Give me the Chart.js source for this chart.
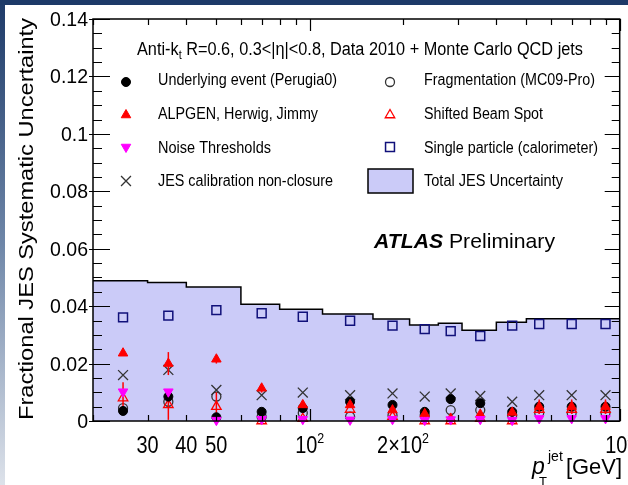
<!DOCTYPE html>
<html>
<head>
<meta charset="utf-8">
<script src="https://cdn.jsdelivr.net/npm/chart.js@4.4.1/dist/chart.umd.min.js"></script>
<style>
  html, body { margin: 0; padding: 0; background: #fff; }
  canvas { display: block; }
</style>
</head>
<body>
<canvas id="jes" width="628" height="485"></canvas>
<script>
// bins of the total uncertainty band (GeV) and its value per bin
const binEdges = [20, 30, 40, 60, 80, 110, 160, 210, 260, 310, 400, 500, 600, 800, 1000];
const totalJES = [0.0488, 0.0482, 0.0467, 0.0407, 0.0389, 0.0373, 0.0355, 0.0334, 0.0340, 0.0316, 0.0344, 0.0356, 0.0356, 0.0356];

// bin centres where the single components are plotted
const ptCenters = [25, 35, 50, 70, 95, 135, 185, 235, 285, 355, 450, 550, 700, 900];

const underlyingEvent = [0.0035, 0.0085, 0.0013, 0.0032, 0.0045, 0.0067, 0.0056, 0.0032, 0.0076, 0.0062, 0.0032, 0.0050, 0.0050, 0.0050];
const fragmentation   = [0.0045, 0.0067, 0.0085, 0.0015, 0.0028, 0.0015, 0.0020, 0.0020, 0.0038, 0.0038, 0.0020, 0.0029, 0.0029, 0.0029];
const alpgen          = [0.0236, 0.0200, 0.0215, 0.0114, 0.0056, 0.0056, 0.0038, 0.0025, 0.0009, 0.0023, 0.0030, 0.0050, 0.0050, 0.0050];
const alpgenErr       = [0.0010, 0.0040, 0.0015, 0.0015, 0.0010, 0.0010, 0.0010, 0.0010, 0.0008, 0.0010, 0.0010, 0.0025, 0.0025, 0.0025];
const beamSpot        = [0.0080, 0.0056, 0.0050, 0.0000, 0.0008, 0.0040, 0.0015, 0.0000, 0.0000, 0.0008, 0.0000, 0.0040, 0.0040, 0.0040];
const beamSpotErr     = [0.0055, 0.0052, 0.0050, 0.0000, 0.0000, 0.0000, 0.0000, 0.0000, 0.0000, 0.0000, 0.0000, 0.0015, 0.0015, 0.0015];
const noise           = [0.0102, 0.0102, 0.0003, 0.0006, 0.0006, 0.0004, 0.0006, 0.0003, 0.0005, 0.0006, 0.0003, 0.0009, 0.0009, 0.0009];
const nonClosure      = [0.0160, 0.0178, 0.0108, 0.0090, 0.0099, 0.0090, 0.0096, 0.0085, 0.0096, 0.0087, 0.0067, 0.0090, 0.0090, 0.0090];
const singleParticle  = [0.0361, 0.0367, 0.0386, 0.0375, 0.0363, 0.0349, 0.0332, 0.0320, 0.0313, 0.0296, 0.0332, 0.0338, 0.0338, 0.0338];

// axis tick labels
const yTickValues = [0, 0.02, 0.04, 0.06, 0.08, 0.1, 0.12, 0.14];
const yTickLabels = ['0', '0.02', '0.04', '0.06', '0.08', '0.1', '0.12', '0.14'];
const xTickValues = [30, 40, 50, 100, 200, 1000];
const xTickLabels = ['30', '40', '50', '10^2', '2\u00d710^2', '10^3'];

const FONT = '"Liberation Sans", Arial, Helvetica, sans-serif';
const BAND = '#cbcbf8';

function pts(ys) {
    return ptCenters.map((x, i) => ({ x: x, y: ys[i] }));
}

// draws a row of text pieces; squeezed horizontally to "width" or by "sx"
function richText(ctx, pieces, x, y, opt) {
    opt = opt || {};
    let total = 0;
    pieces.forEach(p => {
        ctx.font = `${p.st || ''} ${p.s}px ${FONT}`;
        p.w = ctx.measureText(p.t).width;
        total += p.w;
    });
    const sx = opt.width ? opt.width / total : (opt.sx || 1);
    let start = x;
    if (opt.align === 'right') start = x - total * sx;
    if (opt.align === 'center') start = x - total * sx / 2;
    ctx.save();
    ctx.translate(start, y);
    ctx.scale(sx, 1);
    ctx.textAlign = 'left';
    ctx.textBaseline = 'alphabetic';
    let cx = 0;
    pieces.forEach(p => {
        ctx.font = `${p.st || ''} ${p.s}px ${FONT}`;
        ctx.fillText(p.t, cx, p.dy || 0);
        cx += p.w;
    });
    ctx.restore();
}

const legendSlots = [
    ['Underlying event (Perugia0)', 0, 0, 179],
    ['ALPGEN, Herwig, Jimmy', 0, 1, 160],
    ['Noise Thresholds', 0, 2, 113],
    ['JES calibration non-closure', 0, 3, 175],
    ['Fragmentation (MC09-Pro)', 1, 0, 171],
    ['Shifted Beam Spot', 1, 1, 119],
    ['Single particle (calorimeter)', 1, 2, 174],
    ['Total JES Uncertainty', 1, 3, 139]
];
const legendColX = [[126, 158], [390, 424]];
const legendMarkY = [82, 115, 147, 181];
const legendTextY = [85, 119, 153, 186];

const backgroundPlugin = {
    id: 'slideBackground',
    beforeDraw(chart) {
        const ctx = chart.ctx;
        ctx.save();
        ctx.fillStyle = '#fff';
        ctx.fillRect(0, 0, chart.width, chart.height);
        const g = ctx.createLinearGradient(0, 0, 0, chart.height);
        g.addColorStop(0, '#1d3a68');
        g.addColorStop(0.5, '#6e86a8');
        g.addColorStop(1, '#dde2ea');
        ctx.fillStyle = g;
        ctx.fillRect(0, 0, 5, chart.height);
        ctx.fillStyle = '#1d3a68';
        ctx.fillRect(0, 0, chart.width, 5);
        ctx.restore();
    }
};

const errorBarPlugin = {
    id: 'errorBars',
    beforeDatasetDraw(chart, args) {
        const ds = chart.data.datasets[args.index];
        if (!ds.errors) return;
        const ctx = chart.ctx;
        const y = chart.scales.y;
        ctx.save();
        ctx.strokeStyle = ds.borderColor;
        ctx.lineWidth = 1.5;
        args.meta.data.forEach((el, i) => {
            const e = ds.errors[i];
            if (!e) return;
            const v = ds.data[i].y;
            ctx.beginPath();
            ctx.moveTo(el.x, y.getPixelForValue(Math.max(v - e, 0)));
            ctx.lineTo(el.x, y.getPixelForValue(v + e));
            ctx.stroke();
        });
        ctx.restore();
    }
};

const framePlugin = {
    id: 'rootFrame',
    afterDraw(chart) {
        const ctx = chart.ctx;
        const a = chart.chartArea;
        const xs = chart.scales.x, ys = chart.scales.y;
        ctx.save();
        ctx.strokeStyle = '#000';
        ctx.lineWidth = 1.2;
        ctx.beginPath();
        // y ticks, every 0.005, major every 0.02
        for (let i = 0; i <= 28; i++) {
            const py = Math.round(ys.getPixelForValue(i * 0.005)) + 0.5;
            const major = i % 4 === 0;
            ctx.moveTo(a.left - (major ? 4 : 0), py);
            ctx.lineTo(a.left + (major ? 17 : 9), py);
            ctx.moveTo(a.right - (major ? 15 : 8), py);
            ctx.lineTo(a.right, py);
        }
        // log x ticks
        [10, 100].forEach(d => {
            for (let m = 1; m <= 10; m++) {
                const v = m * d;
                if (v < 20 || v > 1000) continue;
                const px = Math.round(xs.getPixelForValue(v)) + 0.5;
                const len = (m === 1 || m === 10) ? 12 : 6;
                ctx.moveTo(px, a.bottom);
                ctx.lineTo(px, a.bottom - len);
                ctx.moveTo(px, a.top);
                ctx.lineTo(px, a.top + len);
            }
        });
        ctx.stroke();
        ctx.lineWidth = 1.5;
        ctx.strokeRect(a.left, a.top, a.right - a.left, a.bottom - a.top);

        ctx.fillStyle = '#000';
        // y tick labels
        yTickValues.forEach((v, i) => {
            richText(ctx, [{ t: yTickLabels[i], s: 19.5 }], 88, ys.getPixelForValue(v) + 7, { align: 'right' });
        });
        // x tick labels
        xTickValues.forEach((v, i) => {
            const parts = xTickLabels[i].split('^');
            const pieces = [{ t: parts[0], s: 24 }];
            if (parts[1]) pieces.push({ t: parts[1], s: 15, dy: -10 });
            richText(ctx, pieces, xs.getPixelForValue(v), 453, { align: 'center', sx: 0.83 });
        });

        // axis titles
        ctx.save();
        ctx.translate(33, 420);
        ctx.rotate(-Math.PI / 2);
        richText(ctx, [{ t: 'Fractional JES Systematic Uncertainty', s: 21 }], 0, 0, { width: 402 });
        ctx.restore();
        richText(ctx, [{ t: 'p', s: 23, st: 'italic' }], 532, 474, {});
        richText(ctx, [{ t: 'T', s: 13 }], 539, 486, {});
        richText(ctx, [{ t: 'jet', s: 14 }], 548, 461, {});
        richText(ctx, [{ t: '[GeV]', s: 22 }], 622, 474, { align: 'right', width: 56 });

        // header and label
        richText(ctx, [
            { t: 'Anti-k', s: 18 },
            { t: 't', s: 12, dy: 4 },
            { t: ' R=0.6, 0.3<|\u03b7|<0.8, Data 2010 + Monte Carlo QCD jets', s: 18 }
        ], 137, 55, { width: 446 });
        richText(ctx, [
            { t: 'ATLAS', s: 21, st: 'bold italic' },
            { t: ' Preliminary', s: 21 }
        ], 374, 248, { width: 181 });

        // legend
        const drawPoint = Chart.helpers && Chart.helpers.drawPoint;
        legendSlots.forEach(slot => {
            const ds = chart.data.datasets.find(d => d.label === slot[0]);
            const mx = legendColX[slot[1]][0], tx = legendColX[slot[1]][1];
            const my = legendMarkY[slot[2]];
            if (ds.type === 'line') {
                ctx.fillStyle = BAND;
                ctx.fillRect(368, 169, 45, 24);
                ctx.lineWidth = 1.5;
                ctx.strokeStyle = '#000';
                ctx.strokeRect(368, 169, 45, 24);
            } else if (drawPoint) {
                ctx.fillStyle = ds.backgroundColor;
                ctx.strokeStyle = ds.borderColor;
                ctx.lineWidth = ds.borderWidth;
                drawPoint(ctx, {
                    pointStyle: ds.pointStyle,
                    radius: ds.pointRadius,
                    rotation: ds.rotation || 0,
                    borderWidth: ds.borderWidth
                }, mx, my);
            }
            ctx.fillStyle = '#000';
            richText(ctx, [{ t: slot[0], s: 16 }], tx, legendTextY[slot[2]], { width: slot[3] });
        });
        ctx.restore();
    }
};

new Chart(document.getElementById('jes'), {
    type: 'scatter',
    data: {
        datasets: [
            {
                label: 'Noise Thresholds', data: pts(noise), order: 1,
                pointStyle: 'triangle', rotation: 180, pointRadius: 5.5,
                backgroundColor: '#ff00ff', borderColor: '#ff00ff', borderWidth: 1, clip: false
            },
            {
                label: 'ALPGEN, Herwig, Jimmy', data: pts(alpgen), errors: alpgenErr, order: 2,
                pointStyle: 'triangle', pointRadius: 5.5,
                backgroundColor: '#ff0000', borderColor: '#ff0000', borderWidth: 1, clip: false
            },
            {
                label: 'Underlying event (Perugia0)', data: pts(underlyingEvent), order: 3,
                pointStyle: 'circle', pointRadius: 4.5,
                backgroundColor: '#000', borderColor: '#000', borderWidth: 1, clip: false
            },
            {
                label: 'Shifted Beam Spot', data: pts(beamSpot), errors: beamSpotErr, order: 4,
                pointStyle: 'triangle', pointRadius: 5.5,
                backgroundColor: 'rgba(0,0,0,0)', borderColor: '#ff0000', borderWidth: 1.3, clip: false
            },
            {
                label: 'Fragmentation (MC09-Pro)', data: pts(fragmentation), order: 5,
                pointStyle: 'circle', pointRadius: 4.5,
                backgroundColor: 'rgba(0,0,0,0)', borderColor: '#333', borderWidth: 1.3, clip: false
            },
            {
                label: 'JES calibration non-closure', data: pts(nonClosure), order: 6,
                pointStyle: 'crossRot', pointRadius: 7,
                backgroundColor: 'rgba(0,0,0,0)', borderColor: '#333', borderWidth: 1.3, clip: false
            },
            {
                label: 'Single particle (calorimeter)', data: pts(singleParticle), order: 7,
                pointStyle: 'rect', pointRadius: 6.3,
                backgroundColor: 'rgba(0,0,0,0)', borderColor: '#10107a', borderWidth: 1.5, clip: false
            },
            {
                type: 'line', label: 'Total JES Uncertainty', order: 10,
                data: binEdges.map((x, i) => ({ x: x, y: totalJES[Math.min(i, totalJES.length - 1)] })),
                stepped: 'before', fill: 'origin', pointRadius: 0,
                backgroundColor: BAND, borderColor: '#000', borderWidth: 1.5
            }
        ]
    },
    options: {
        responsive: false,
        animation: false,
        events: [],
        layout: { padding: { left: 93, top: 19, right: 8, bottom: 64 } },
        plugins: { legend: { display: false }, tooltip: { enabled: false } },
        scales: {
            x: { type: 'logarithmic', min: 20, max: 1000, display: false },
            y: { type: 'linear', min: 0, max: 0.14, display: false }
        }
    },
    plugins: [backgroundPlugin, errorBarPlugin, framePlugin]
});
</script>
</body>
</html>
